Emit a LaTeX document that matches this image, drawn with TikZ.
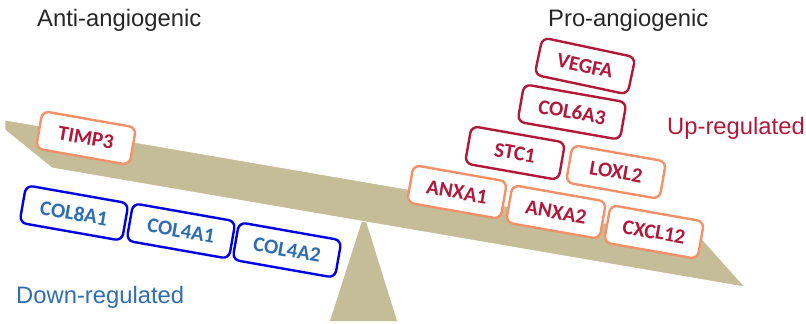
\documentclass[tikz,border=0pt]{standalone}
\usepackage{fontspec}
\setmainfont{Liberation Sans}
\newfontfamily\boxfont{Carlito}
\definecolor{beamtan}{HTML}{C4BD97}
\definecolor{darkred}{HTML}{B2183A}
\definecolor{salmon}{HTML}{F4916A}
\definecolor{boxblue}{HTML}{0000E6}
\definecolor{textblue}{HTML}{2E6DB4}
\definecolor{titlegray}{HTML}{262626}
\tikzset{
  gene/.style={rectangle, rounded corners=7pt, line width=2.4pt, fill=white,
    minimum height=38pt, minimum width=95pt, inner sep=0pt, rotate=-10,
    font=\boxfont\bfseries\fontsize{21}{21}\selectfont},
  upstrong/.style={gene, draw=darkred, text=darkred},
  upweak/.style={gene, draw=salmon, text=darkred},
  down/.style={gene, draw=boxblue, text=textblue, minimum width=104pt},
  title/.style={font=\fontsize{23.8}{24}\selectfont, anchor=base west, inner sep=0pt},
}
\begin{document}
\begin{tikzpicture}[x=1pt,y=-1pt]
\useasboundingbox (0,0) rectangle (806,324);
% fulcrum
\fill[beamtan] (330,321) -- (397,321) -- (364,215) -- cycle;
% beam
\fill[beamtan, draw=white, line width=0.8pt] (5,120) -- (5,130) -- (52,168) -- (745,287) -- (703,240) -- cycle;
% titles
\node[title, text=titlegray] (anti) at (37,27) {Anti-angiogenic};
\node[title, text=titlegray] (pro) at (548,27) {Pro-angiogenic};
\node[title, text=darkred] (up) at (667,134) {Up-regulated};
\node[title, text=textblue] (downlbl) at (16,303) {Down-regulated};
% left side genes
\node[upweak] (timp3) at (86,138) {TIMP3};
\node[down] (col8a1) at (74,213) {COL8A1};
\node[down] (col4a1) at (181,231) {COL4A1};
\node[down] (col4a2) at (287,250) {COL4A2};
% right side genes
\node[upstrong, rotate=-2] (vegfa) at (585,66) {VEGFA};
\node[upstrong, minimum width=104pt] (col6a3) at (572,112) {COL6A3};
\node[upstrong] (stc1) at (515,153) {STC1};
\node[upweak] (loxl2) at (616,172) {LOXL2};
\node[upweak] (anxa1) at (457,192) {ANXA1};
\node[upweak] (anxa2) at (556,212) {ANXA2};
\node[upweak] (cxcl12) at (654,232) {CXCL12};
\end{tikzpicture}
\end{document}
